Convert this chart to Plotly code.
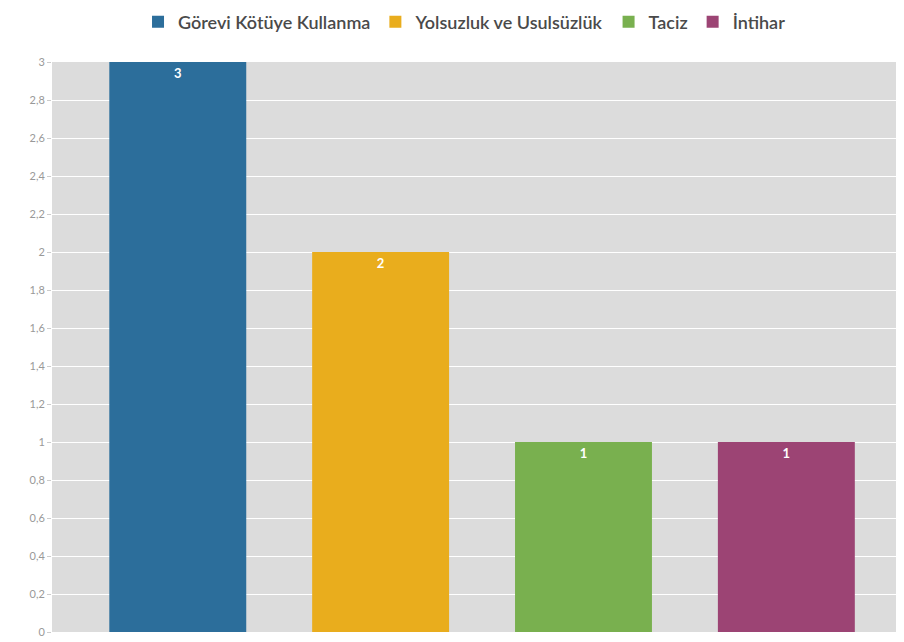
import plotly.graph_objects as go

categories = ["Görevi Kötüye Kullanma", "Yolsuzluk ve Usulsüzlük", "Taciz", "İntihar"]
values = [3, 2, 1, 1]
colors = ["#2c6e9b", "#e9ad1d", "#79b04f", "#9c4474"]

fig = go.Figure()
for i, (name, v, c) in enumerate(zip(categories, values, colors)):
    fig.add_bar(
        x=[i], y=[v], name=name,
        marker_color=c, marker_line_width=0,
        width=0.675,
        text=[str(v)], textposition="inside", insidetextanchor="end",
        textfont=dict(color="white", size=13, family="Lato"),
        texttemplate="<b>%{text}</b>",
    )

# the page body adds an 8px offset, so margins are trimmed to match
fig.update_layout(
    width=904, height=642,
    barmode="overlay",
    separators=", ",
    paper_bgcolor="white",
    plot_bgcolor="#dcdcdc",
    font=dict(family="Lato", color="#555"),
    margin=dict(l=44, r=8, t=54, b=18, autoexpand=False),
    legend=dict(orientation="h", xref="container", x=0.505, xanchor="center",
                y=1.07, yanchor="middle",
                font=dict(size=18, color="#4a4a4a", weight=600),
                itemwidth=30, traceorder="normal"),
    showlegend=True,
)
fig.update_xaxes(range=[-0.62, 3.58], showticklabels=False, showgrid=False,
                 zeroline=False, fixedrange=True)
fig.update_yaxes(range=[0, 3], dtick=0.2, gridcolor="white", gridwidth=1,
                 zeroline=False, ticks="outside", ticklen=4, tickcolor="#ccc",
                 tickfont=dict(size=11, color="#999"))

fig.write_html("out.html")
